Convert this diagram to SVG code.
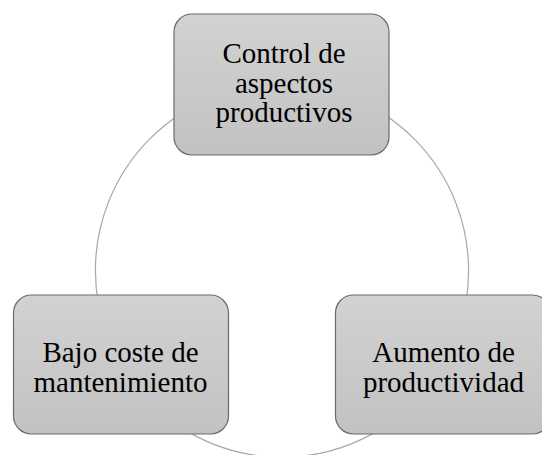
<svg xmlns="http://www.w3.org/2000/svg" width="542" height="455" viewBox="0 0 542 455">
  <defs>
    <linearGradient id="boxfill" x1="0" y1="0" x2="0" y2="1">
      <stop offset="0" stop-color="#d2d2d2"/>
      <stop offset="1" stop-color="#c2c2c2"/>
    </linearGradient>
  </defs>
  <style>
    .box { fill: url(#boxfill); stroke: #6a6a6a; stroke-width: 1.2; }
    .lbl { font-size: 29px; fill: #000; text-anchor: middle; }
    .ring { fill: none; stroke: #a8a8a8; stroke-width: 1.2; }
  </style>
  <rect width="542" height="455" fill="#ffffff"/>
  <g id="connectors">
    <circle class="ring" cx="282" cy="270.6" r="186.6"/>
  </g>
  <g font-family="Liberation Serif, DejaVu Serif, serif">
  <g id="node-control">
    <rect class="box" x="174" y="14" width="215" height="141" rx="18" ry="18"/>
    <text class="lbl" x="284" y="63">Control de</text>
    <text class="lbl" x="284" y="93">aspectos</text>
    <text class="lbl" x="284" y="122">productivos</text>
  </g>
  <g id="node-aumento">
    <rect class="box" x="335.5" y="295" width="215" height="139" rx="18" ry="18"/>
    <text class="lbl" x="443.5" y="362">Aumento de</text>
    <text class="lbl" x="443.5" y="392">productividad</text>
  </g>
  <g id="node-bajo">
    <rect class="box" x="13.5" y="295" width="215" height="139" rx="18" ry="18"/>
    <text class="lbl" x="120.5" y="362">Bajo coste de</text>
    <text class="lbl" x="120.5" y="392">mantenimiento</text>
  </g>
  </g>
</svg>
